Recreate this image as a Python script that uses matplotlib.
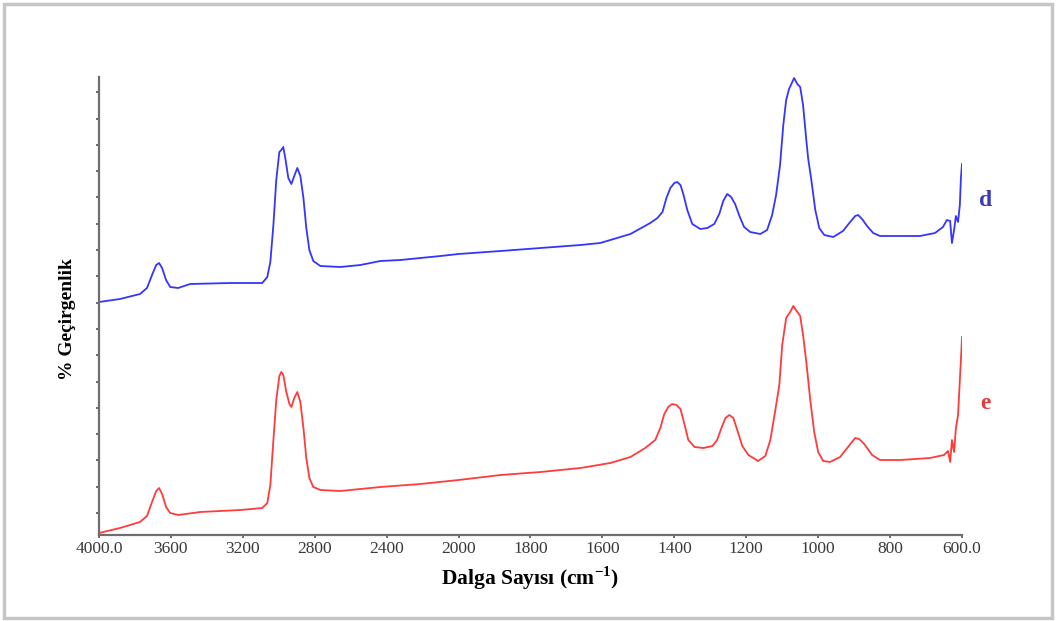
import numpy as np
import matplotlib
matplotlib.use("Agg")
import matplotlib.pyplot as plt
from matplotlib.patches import Rectangle

# FTIR spectra: wavenumber (cm-1) and relative transmittance for samples d and e
wn_d = [4000, 3883, 3772, 3733, 3705, 3682, 3666, 3649, 3627, 3604, 3560, 3493,
        3270, 3092, 3064, 3047, 3030, 3014, 2997, 2986, 2975, 2964, 2947, 2930,
        2914, 2897, 2880, 2863, 2847, 2830, 2808, 2769, 2657, 2546, 2435, 2323,
        2212, 2100, 2000, 1883, 1772, 1661, 1606, 1522, 1467, 1447, 1433, 1422,
        1411, 1400, 1392, 1383, 1375, 1364, 1350, 1328, 1308, 1289, 1275, 1264,
        1253, 1242, 1231, 1219, 1206, 1189, 1161, 1142, 1128, 1117, 1106, 1097,
        1089, 1081, 1072, 1067, 1058, 1050, 1042, 1033, 1028, 1019, 1008, 997,
        983, 958, 931, 911, 897, 889, 878, 864, 847, 828, 772, 717, 675, 653,
        642, 633, 628, 622, 617, 611, 606, 603, 600]
t_d = [46.6, 47.2, 48.2, 49.4, 52.0, 54.0, 54.4, 53.4, 51.0, 49.6, 49.4, 50.2,
       50.4, 50.4, 51.6, 54.6, 62.0, 71.0, 76.6, 77.0, 77.6, 75.4, 71.4, 70.2,
       71.8, 73.4, 71.8, 67.4, 61.4, 57.0, 54.8, 53.8, 53.6, 54.0, 54.8, 55.0,
       55.4, 55.8, 56.2, 56.8, 57.4, 58.0, 58.4, 60.2, 62.4, 63.4, 64.6, 67.4,
       69.4, 70.4, 70.6, 70.0, 68.2, 65.0, 62.2, 61.2, 61.4, 62.2, 64.2, 66.8,
       68.2, 67.6, 66.2, 63.8, 61.6, 60.6, 60.2, 61.0, 64.0, 68.0, 74.0, 82.0,
       87.0, 89.2, 90.6, 91.4, 90.2, 89.6, 86.0, 79.0, 75.4, 71.0, 65.0, 61.4,
       60.0, 59.6, 60.8, 62.6, 63.8, 64.0, 63.2, 61.8, 60.4, 59.8, 59.8, 59.8,
       60.4, 61.6, 63.0, 62.8, 58.4, 61.0, 63.8, 62.6, 66.0, 71.4, 74.2]

wn_e = [4000, 3883, 3772, 3733, 3705, 3682, 3666, 3649, 3627, 3604, 3560, 3437,
        3214, 3092, 3064, 3047, 3030, 3014, 2997, 2986, 2975, 2958, 2941, 2930,
        2914, 2897, 2880, 2863, 2847, 2830, 2808, 2769, 2657, 2435, 2212, 2000,
        1883, 1772, 1661, 1578, 1522, 1481, 1453, 1439, 1428, 1417, 1406, 1394,
        1383, 1372, 1361, 1344, 1319, 1294, 1281, 1269, 1258, 1247, 1236, 1225,
        1211, 1194, 1167, 1147, 1133, 1120, 1108, 1100, 1089, 1078, 1069, 1058,
        1050, 1042, 1033, 1022, 1011, 1000, 986, 967, 939, 917, 897, 886, 872,
        850, 828, 772, 689, 650, 639, 633, 628, 622, 617, 611, 606, 603, 600]
t_e = [0.4, 1.4, 2.6, 3.8, 6.6, 8.8, 9.4, 8.2, 5.6, 4.4, 4.0, 4.6,
       5.0, 5.4, 6.4, 10.0, 19.0, 27.0, 31.8, 32.6, 32.0, 28.6, 26.2, 25.6,
       27.4, 28.6, 26.6, 21.4, 15.4, 11.4, 9.6, 9.0, 8.8, 9.6, 10.2, 11.0,
       12.0, 12.6, 13.4, 14.4, 15.6, 17.4, 19.0, 21.4, 24.2, 25.6, 26.2, 26.0,
       25.2, 22.2, 19.0, 17.6, 17.4, 17.8, 19.0, 21.4, 23.4, 24.0, 23.4, 21.0,
       17.8, 16.0, 14.8, 15.8, 19.0, 24.6, 30.0, 38.0, 43.4, 44.6, 45.8, 44.6,
       43.8, 40.0, 34.6, 27.0, 20.6, 16.6, 14.8, 14.6, 15.6, 17.6, 19.4, 19.2,
       18.2, 16.0, 15.0, 15.0, 15.4, 16.0, 16.8, 14.6, 19.0, 16.6, 21.4, 24.0,
       31.0, 35.0, 39.6]

tick_values = [4000, 3600, 3200, 2800, 2400, 2000, 1800, 1600, 1400, 1200, 1000, 800, 600]
tick_labels = ["4000.0", "3600", "3200", "2800", "2400", "2000", "1800", "1600",
               "1400", "1200", "1000", "800", "600.0"]

x_label = "Dalga Sayısı (cm$^{\\mathbf{-1}}$)"
y_label = "% Geçirgenlik"


def forward(x):
    # scale change at 2000 cm-1: the high-wavenumber half is compressed 2x
    x = np.asarray(x, dtype=float)
    return np.where(x > 2000, 2000 + (x - 2000) / 2.0, x)


def inverse(u):
    u = np.asarray(u, dtype=float)
    return np.where(u > 2000, 2000 + (u - 2000) * 2.0, u)


plt.rcParams["font.family"] = ["Liberation Serif", "DejaVu Serif"]
plt.rcParams["mathtext.fontset"] = "custom"
plt.rcParams["mathtext.rm"] = "Liberation Serif"
plt.rcParams["mathtext.bf"] = "Liberation Serif:bold"

W, H = 1057, 621
fig = plt.figure(figsize=(W / 100, H / 100), dpi=100)
ax = fig.add_axes([99 / W, 1 - 535 / H, (962 - 99) / W, (535 - 77) / H])

ax.set_xscale("function", functions=(forward, inverse))
ax.plot(wn_d, t_d, color="#3535ff", lw=1.3)
ax.plot(wn_e, t_e, color="#ff3b3b", lw=1.3)

ax.set_xlim(4000, 600)
ax.set_ylim(0, 91.6)

ax.set_xticks(tick_values)
ax.set_xticklabels(tick_labels)
ax.xaxis.set_minor_locator(matplotlib.ticker.NullLocator())
ax.set_yticks(np.arange(4.4, 91.0, 5.26))
ax.set_yticklabels([])

for side in ("top", "right"):
    ax.spines[side].set_visible(False)
for side in ("left", "bottom"):
    ax.spines[side].set_color("#6e6e6e")
    ax.spines[side].set_linewidth(1.6)

ax.tick_params(axis="x", direction="out", length=2.5, width=1.2, color="#555555",
               labelsize=12.5, labelcolor="#3a3a3a", pad=2)
ax.tick_params(axis="y", direction="out", length=2.5, width=1.2, color="#555555")

ax.set_xlabel(x_label, fontsize=15.5, fontweight="bold", labelpad=5)
ax.set_ylabel(y_label, fontsize=14, fontweight="bold")
ax.yaxis.set_label_coords(-0.027, 0.472)

ax.text(1.027, 0.73, "d", transform=ax.transAxes, color="#3a3ab8",
        fontsize=17, fontweight="bold", ha="center", va="center")
ax.text(1.027, 0.287, "e", transform=ax.transAxes, color="#e63a3a",
        fontsize=17, fontweight="bold", ha="center", va="center")

# outer frame around the whole figure
fig.patches.append(Rectangle((4 / W, 1 - 618 / H), (1052 - 4) / W, (618 - 4) / H,
                             transform=fig.transFigure, fill=False,
                             edgecolor="#c6c6c6", linewidth=2.5))

fig.savefig("out.png", dpi=100)
